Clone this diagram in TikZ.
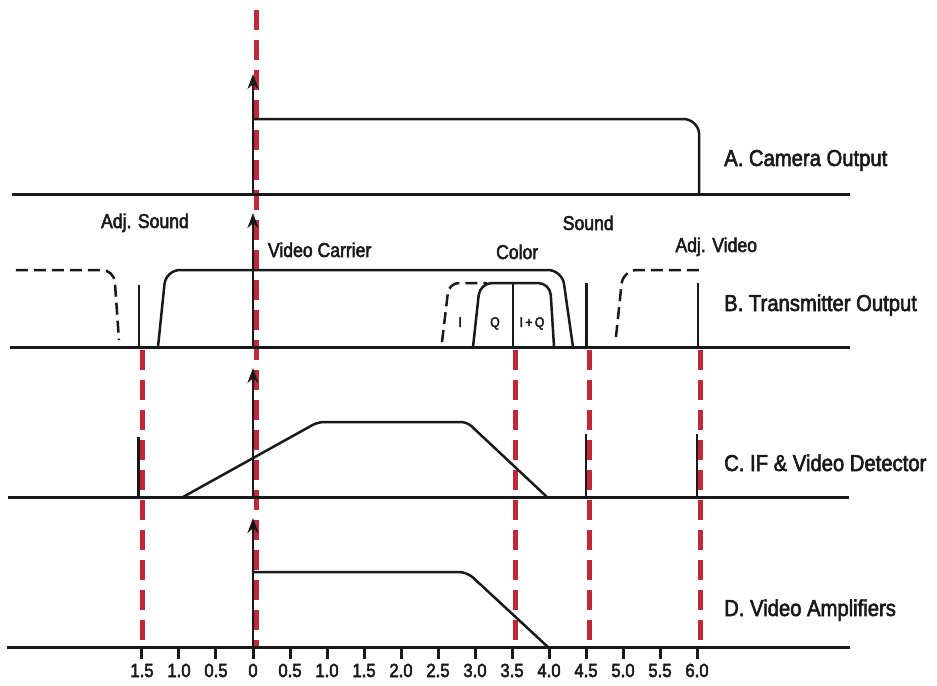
\documentclass[tikz,border=0pt]{standalone}
\usepackage{fontspec}
\setmainfont{Liberation Sans}[FakeStretch=0.88, FakeBold=2.5]
\usetikzlibrary{arrows.meta}
\definecolor{guidered}{RGB}{192,40,58}
\definecolor{ink}{RGB}{25,25,25}
\tikzset{
  axisline/.style={line width=3pt, ink},
  band/.style={line width=2.5pt, ink, rounded corners=#1},
  band/.default=12pt,
  adjband/.style={band=#1, dash pattern=on 12pt off 6pt},
  adjband/.default=12pt,
  spike/.style={line width=2.5pt, ink},
  tickmark/.style={line width=3pt, ink},
  carrier/.style={line width=2.8pt, ink, -{Stealth[length=15pt,width=11pt]}},
  guide/.style={line width=5pt, guidered, dash pattern=on 20pt off 10pt},
  stagelabel/.style={font=\fontsize{23}{27}\selectfont, anchor=base west, text=ink, inner sep=0pt},
  siglabel/.style={font=\fontsize{20}{24}\selectfont, anchor=base, text=ink, inner sep=0pt},
  iqlabel/.style={font=\fontsize{14}{17}\selectfont, anchor=base, text=ink, inner sep=0pt},
  ticklabel/.style={font=\fontsize{19}{22}\selectfont, anchor=base, text=ink, inner sep=0pt},
}

\begin{document}
\begin{tikzpicture}[x=74pt, y=-1pt]
  \useasboundingbox (-3.4189,0) rectangle (9.2432,685);
  % red guide lines
  \draw[guide] (0.05,10) -- (0.05,647);
  \foreach \g in {-1.49,3.55,4.55,6.05}
    \draw[guide] (\g,350) -- (\g,647);
  % A. camera output
  \draw[axisline] (-3.257,194) -- (8.07,194);
  \draw[carrier] (0,194) -- (0,74);
  \draw[band=16pt] (0,119) -- (6.03,119) -- (6.03,194);
  \node[stagelabel] (camera) at (6.365,166) {A. Camera Output};
  % B. transmitter output
  \draw[axisline] (-3.284,347) -- (8.07,347);
  \draw[carrier] (0,347) -- (0,213);
  \draw[adjband] (-3.203,270) -- (-1.878,270) -- (-1.811,340);
  \draw[spike] (-1.54,347) -- (-1.54,285);
  \draw[band=14pt] (-1.284,347) -- (-1.176,270) -- (4.176,270) -- (4.324,347);
  \draw[adjband=10pt] (2.554,342) -- (2.649,283) -- (3.162,283);
  \draw[band] (2.973,347) -- (3.068,283) -- (4.014,283) -- (4.068,347);
  \draw[spike] (3.514,283) -- (3.514,347);
  \draw[spike] (4.51,347) -- (4.51,283);
  \draw[adjband=14pt] (4.905,337) -- (5.0,270) -- (6.04,270);
  \draw[spike] (6.01,347) -- (6.01,283);
  \node[siglabel] (adjsound) at (-1.46,228) {Adj. Sound};
  \node[siglabel, anchor=base west] (vidcarrier) at (0.2,257) {Video Carrier};
  \node[siglabel] (color) at (3.57,259) {Color};
  \node[siglabel] (sound) at (4.53,230) {Sound};
  \node[siglabel] (adjvideo) at (6.26,252) {Adj. Video};
  \node[iqlabel] (ilab) at (2.80,327) {I};
  \node[iqlabel] (qlab) at (3.27,327) {Q};
  \node[iqlabel] (iqlab) at (3.77,327) {I\,+\,Q};
  \node[stagelabel] (transmitter) at (6.365,311) {B. Transmitter Output};
  % C. IF & video detector
  \draw[axisline] (-3.31,497) -- (8.05,497);
  \draw[carrier] (0,497) -- (0,368);
  \draw[band=6pt] (-0.946,497) -- (0.878,422) -- (2.892,422) -- (3.973,497);
  \draw[spike] (-1.55,497) -- (-1.55,437);
  \draw[spike] (4.5,497) -- (4.5,434);
  \draw[spike] (6.0,497) -- (6.0,434);
  \node[stagelabel] (detector) at (6.365,471) {C. IF \& Video Detector};
  % D. video amplifiers
  \draw[axisline] (-3.32,647) -- (8.07,647);
  \draw[carrier] (0,647) -- (0,518);
  \draw[band=8pt] (0,572) -- (2.892,572) -- (3.986,647);
  \node[stagelabel] (amplifiers) at (6.365,616) {D. Video Amplifiers};
  % frequency ticks
  \foreach \f in {-1.5,-1,...,6}
    \draw[tickmark] (\f,646) -- (\f,659);
  \foreach \f/\t [count=\i] in {-1.5/1.5,-1/1.0,-0.5/0.5,0/0,0.5/0.5,1/1.0,1.5/1.5,2/2.0,2.5/2.5,3/3.0,3.5/3.5,4/4.0,4.5/4.5,5/5.0,5.5/5.5,6/6.0}
    \node[ticklabel] (tick\i) at (\f,677) {\t};
\end{tikzpicture}
\end{document}
